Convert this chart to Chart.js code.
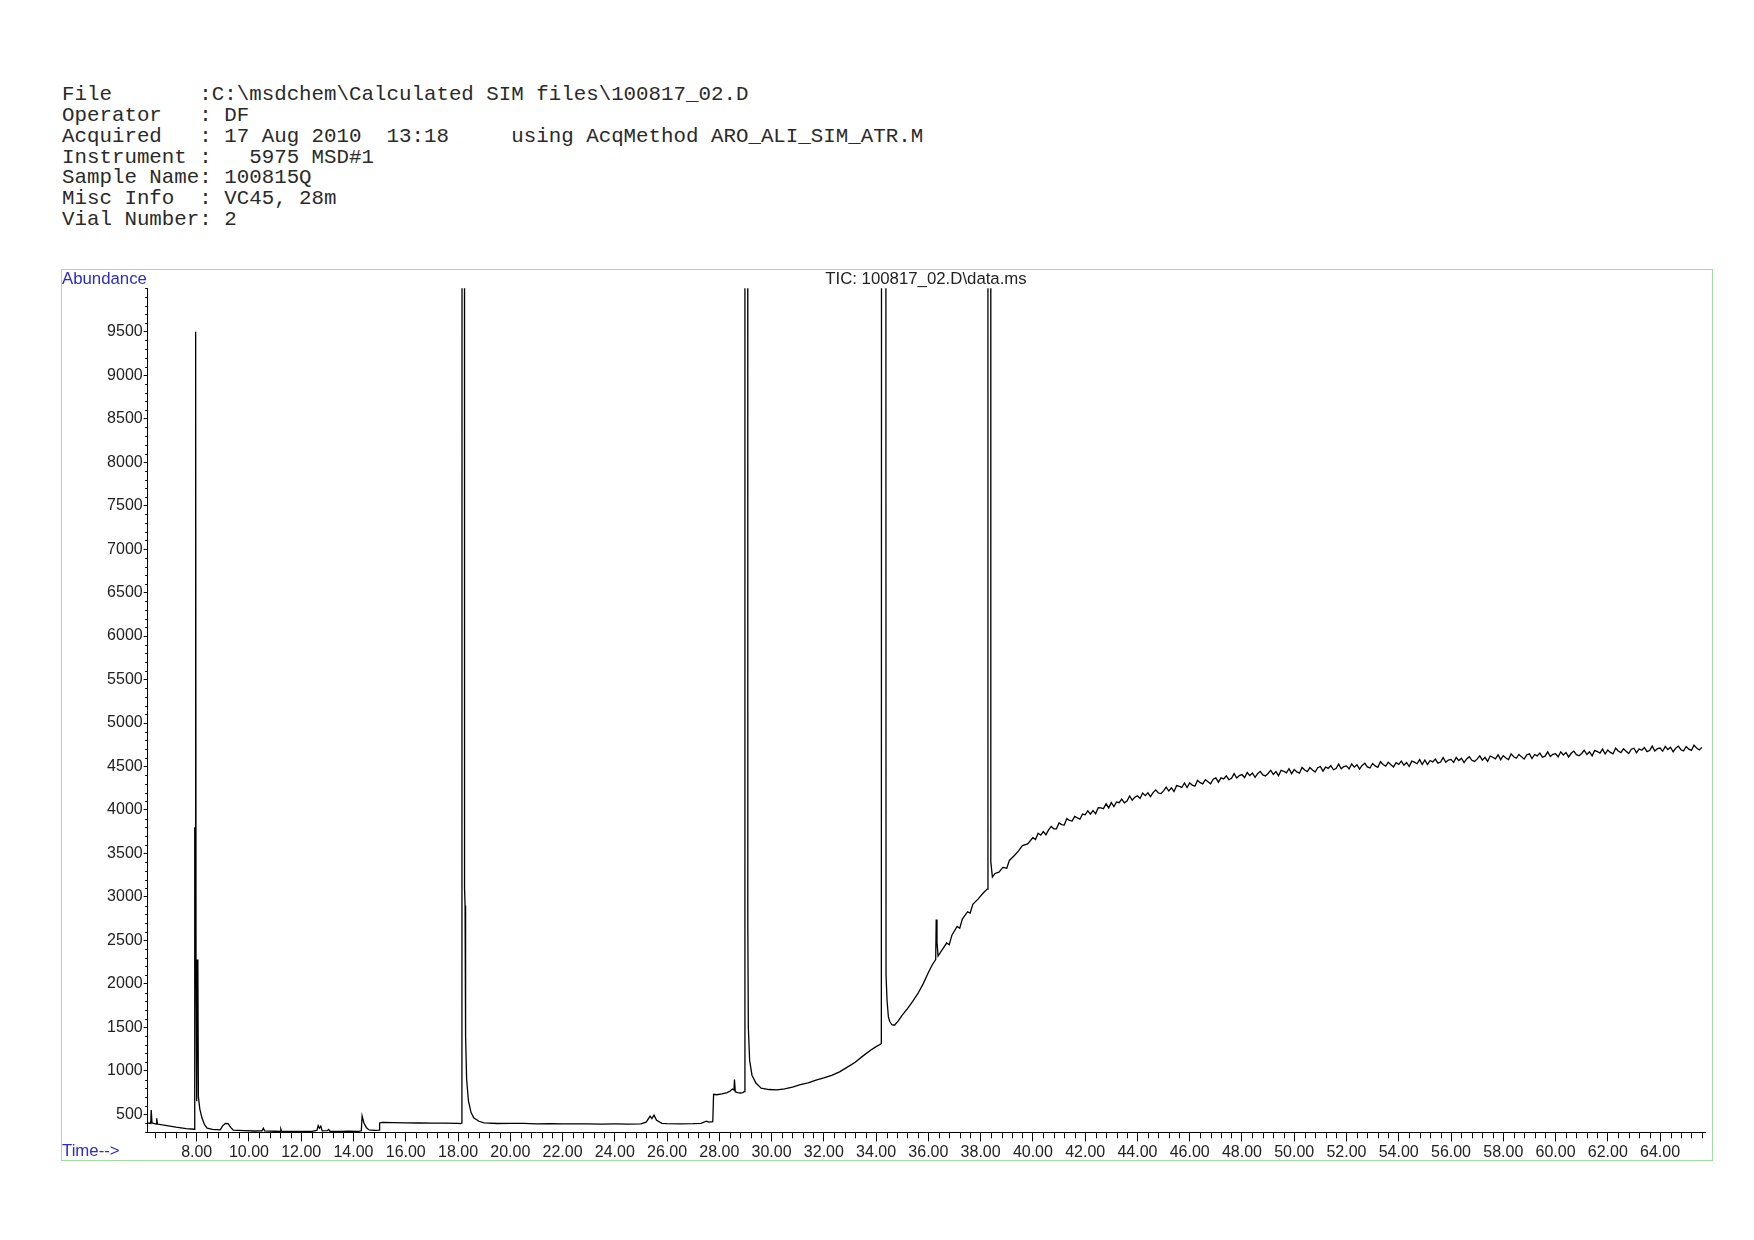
<!DOCTYPE html>
<html>
<head>
<meta charset="utf-8">
<title>TIC 100817_02.D</title>
<script src="https://cdn.jsdelivr.net/npm/chart.js@4.4.0/dist/chart.umd.min.js"></script>
<style>
    html, body { margin: 0; padding: 0; background: #fff; }
    body { width: 1754px; height: 1240px; position: relative; overflow: hidden; }
    #header {
        position: absolute; left: 62px; top: 85px; margin: 0;
        font-family: "Liberation Mono", monospace; font-size: 20.8px;
        line-height: 20.85px; color: #2a2a2a;
    }
    #frame {
        position: absolute; left: 61px; top: 269px; width: 1650px; height: 890px;
        border: 1px solid #9ee09e;
    }
    .lbl {
        position: absolute; font-family: "Liberation Sans", Arial, sans-serif;
        font-size: 16.8px; line-height: 18px; white-space: nowrap;
    }
    .blue { color: #2a2ad6; }
    canvas { position: absolute; left: 0; top: 0; }
</style>
</head>
<body>
<pre id="header">File       :C:\msdchem\Calculated SIM files\100817_02.D
Operator   : DF
Acquired   : 17 Aug 2010  13:18     using AcqMethod ARO_ALI_SIM_ATR.M
Instrument :   5975 MSD#1
Sample Name: 100815Q
Misc Info  : VC45, 28m
Vial Number: 2</pre>
<div id="frame"></div>
<canvas id="ticChart" width="1754" height="1240"></canvas>
<div class="lbl blue" style="left:62px; top:270px;">Abundance</div>
<div class="lbl" style="left:926px; top:270px; transform:translateX(-50%); color:#222;">TIC: 100817_02.D\data.ms</div>
<div class="lbl blue" style="left:62px; top:1142px;">Time--&gt;</div>

<script>
// Retention time (min), up to 40 min
const retentionTime = [
    6.13, 6.24, 6.26, 6.29, 6.45, 6.47, 6.50, 6.8, 7.2, 7.6,
    7.90, 7.92, 7.93, 7.945, 7.96, 7.975, 7.99, 8.01, 8.025, 8.045,
    8.065, 8.12, 8.2, 8.3, 8.4, 8.6, 8.9, 9.0, 9.1, 9.2,
    9.3, 9.4, 9.8, 10.2, 10.5, 10.55, 10.6, 11.0, 11.2, 11.22,
    11.25, 11.8, 12.4, 12.6, 12.65, 12.7, 12.75, 12.8, 13.0, 13.05,
    13.1, 13.5, 13.8, 14.2, 14.3, 14.33, 14.4, 14.5, 14.6, 14.8,
    14.98, 15.0, 15.1, 15.5, 16.0, 16.5, 17.0, 17.5, 18.0, 18.1,
    18.15, 18.17, 18.23, 18.25, 18.27, 18.29, 18.33, 18.4, 18.5, 18.6,
    18.8, 19.0, 19.5, 20.0, 20.5, 21.0, 21.5, 22.0, 22.5, 23.0,
    23.5, 24.0, 24.5, 25.0, 25.2, 25.35, 25.42, 25.5, 25.6, 25.8,
    26.0, 26.5, 27.0, 27.3, 27.5, 27.6, 27.75, 27.78, 27.9, 28.1,
    28.3, 28.4, 28.5, 28.56, 28.58, 28.61, 28.7, 28.8, 28.9, 28.95,
    28.98, 29.07, 29.09, 29.11, 29.16, 29.25, 29.4, 29.6, 29.9, 30.2,
    30.5, 30.8, 31.1, 31.4, 31.7, 32.0, 32.3, 32.6, 32.9, 33.2,
    33.5, 33.8, 34.0, 34.2, 34.24, 34.34, 34.38, 34.42, 34.47, 34.52,
    34.6, 34.7, 34.85, 35.0, 35.2, 35.4, 35.6, 35.8, 36.0, 36.15,
    36.28, 36.3, 36.33, 36.37, 36.5, 36.7, 36.8, 36.9, 37.1, 37.2,
    37.3, 37.5, 37.6, 37.7, 37.9, 38.1, 38.25, 38.28, 38.37, 38.39,
    38.45, 38.55, 38.7, 38.85, 39.0, 39.1, 39.3, 39.45, 39.6, 39.8
];

// Abundance at each of those times (off-scale peaks go above 10000)
const abundance = [
    400, 395, 550, 400, 388, 455, 388, 372, 352, 336,
    328, 340, 3800, 3700, 9500, 2000, 700, 650, 2280, 2200,
    700, 560, 460, 380, 340, 326, 322, 370, 395, 393,
    350, 318, 312, 308, 310, 340, 310, 305, 303, 330,
    305, 302, 304, 315, 370, 340, 365, 310, 312, 325,
    305, 303, 305, 304, 310, 480, 400, 345, 320, 315,
    318, 400, 408, 404, 402, 400, 399, 398, 396, 392,
    400, 60000, 60000, 3100, 2900, 1400, 900, 650, 520, 460,
    420, 402, 394, 395, 396, 391, 393, 390, 389, 391,
    387, 389, 388, 391, 410, 480, 450, 490, 430, 396,
    392, 390, 392, 396, 420, 410, 415, 730, 725, 735,
    750, 765, 790, 780, 900, 760, 750, 745, 750, 760,
    60000, 60000, 2700, 1500, 1120, 950, 860, 800, 785, 780,
    792, 812, 842, 862, 892, 918, 948, 988, 1042, 1098,
    1172, 1240, 1278, 1312, 60000, 60000, 2100, 1800, 1620, 1570,
    1530, 1525, 1575, 1640, 1715, 1800, 1890, 2000, 2130, 2220,
    2280, 2740, 2480, 2320, 2380, 2470, 2450, 2560, 2660, 2640,
    2745, 2830, 2815, 2915, 2975, 3045, 3090, 60000, 60000, 3400,
    3230, 3270, 3285, 3340, 3330, 3420, 3480, 3530, 3590, 3610
];

// Late, noisy baseline: one reading every 0.1 min from 40.0 to 65.6 min
const lateStart = 40.0;
const lateStep = 0.1;
const lateAbundance = [
    3682, 3661, 3732, 3710, 3752, 3715, 3771, 3810, 3783, 3784,
    3850, 3832, 3826, 3901, 3880, 3872, 3927, 3909, 3894, 3953,
    3945, 3991, 3952, 3993, 3956, 4027, 4024, 4015, 4071, 4024,
    4085, 4039, 4093, 4084, 4124, 4083, 4104, 4161, 4114, 4147,
    4162, 4133, 4195, 4165, 4198, 4153, 4200, 4231, 4195, 4188,
    4220, 4262, 4218, 4255, 4213, 4280, 4272, 4259, 4310, 4259,
    4310, 4286, 4273, 4342, 4314, 4300, 4348, 4324, 4302, 4355,
    4370, 4320, 4370, 4357, 4393, 4348, 4365, 4418, 4367, 4396,
    4407, 4373, 4431, 4396, 4425, 4375, 4418, 4444, 4404, 4392,
    4420, 4457, 4409, 4441, 4395, 4457, 4445, 4427, 4474, 4418,
    4465, 4438, 4423, 4489, 4459, 4442, 4488, 4461, 4437, 4487,
    4500, 4447, 4494, 4478, 4511, 4463, 4477, 4527, 4473, 4499,
    4507, 4472, 4529, 4493, 4521, 4470, 4512, 4537, 4496, 4483,
    4535, 4507, 4490, 4555, 4523, 4505, 4549, 4521, 4495, 4544,
    4525, 4562, 4514, 4546, 4500, 4562, 4550, 4532, 4579, 4523,
    4575, 4522, 4569, 4553, 4586, 4538, 4552, 4602, 4548, 4574,
    4582, 4547, 4604, 4568, 4596, 4545, 4587, 4612, 4571, 4558,
    4585, 4622, 4573, 4605, 4558, 4620, 4607, 4589, 4635, 4579,
    4625, 4597, 4580, 4645, 4613, 4595, 4639, 4611, 4585, 4634,
    4645, 4592, 4638, 4622, 4654, 4606, 4619, 4669, 4614, 4640,
    4647, 4612, 4669, 4633, 4661, 4610, 4652, 4677, 4636, 4623,
    4650, 4687, 4638, 4670, 4623, 4685, 4672, 4654, 4700, 4644,
    4690, 4662, 4645, 4710, 4678, 4660, 4704, 4676, 4650, 4699,
    4710, 4657, 4703, 4687, 4719, 4671, 4684, 4734, 4679, 4705,
    4712, 4676, 4732, 4695, 4722, 4670, 4711, 4735, 4693, 4679,
    4730, 4700, 4685, 4745, 4712, 4690, 4720
];

// Labelled ticks
const timeTicks = [8, 10, 12, 14, 16, 18, 20, 22, 24, 26, 28, 30, 32, 34, 36,
    38, 40, 42, 44, 46, 48, 50, 52, 54, 56, 58, 60, 62, 64];
const abundanceTicks = [500, 1000, 1500, 2000, 2500, 3000, 3500, 4000, 4500,
    5000, 5500, 6000, 6500, 7000, 7500, 8000, 8500, 9000, 9500];

const X_MIN = 6.125, X_MAX = 65.72;
const Y_MIN = 293, Y_MAX = 10000;

const tickFont = { family: '"Liberation Sans", Arial, sans-serif', size: 16 };

/**
 * Short minor tick marks: every 0.4 min on time, every 100 on abundance
 */
const minorTicks = {
    id: 'minorTicks',
    afterDraw(chart) {
        const ctx = chart.ctx;
        const xs = chart.scales.x;
        const ys = chart.scales.y;
        const area = chart.chartArea;
        ctx.save();
        ctx.strokeStyle = '#000';
        ctx.lineWidth = 1;
        ctx.beginPath();
        for (let i = 16; i * 0.4 <= X_MAX; i++) {
            if (i % 5 === 0) continue;
            const px = Math.round(xs.getPixelForValue(i * 0.4)) + 0.5;
            ctx.moveTo(px, area.bottom);
            ctx.lineTo(px, area.bottom + 6);
        }
        for (let v = 300; v <= Y_MAX; v += 100) {
            if (v % 500 === 0 && v < Y_MAX) continue;
            const py = Math.round(ys.getPixelForValue(v)) + 0.5;
            ctx.moveTo(area.left, py);
            ctx.lineTo(area.left - 2.5, py);
        }
        ctx.stroke();
        ctx.restore();
    }
};

document.addEventListener('DOMContentLoaded', function() {
    const points = retentionTime.map((t, i) => ({ x: t, y: abundance[i] }));
    lateAbundance.forEach((v, i) => {
        points.push({ x: +(lateStart + i * lateStep).toFixed(1), y: v });
    });

    new Chart(document.getElementById('ticChart'), {
        type: 'scatter',
        data: {
            datasets: [{
                data: points,
                showLine: true,
                borderColor: '#000',
                borderWidth: 1.3,
                pointRadius: 0,
                tension: 0
            }]
        },
        options: {
            responsive: false,
            animation: false,
            events: [],
            layout: { padding: { left: 0, right: 49, top: 288.3, bottom: 67.7 } },
            plugins: {
                legend: { display: false },
                tooltip: { enabled: false }
            },
            scales: {
                x: {
                    type: 'linear',
                    min: X_MIN,
                    max: X_MAX,
                    afterBuildTicks: scale => {
                        scale.ticks = timeTicks.map(v => ({ value: v }));
                    },
                    afterFit: scale => { scale.height = 40; },
                    ticks: {
                        callback: v => Number(v).toFixed(2),
                        font: tickFont,
                        color: '#222',
                        padding: 2,
                        maxRotation: 0,
                        autoSkip: false
                    },
                    grid: { display: true, drawOnChartArea: false, tickLength: 9, tickColor: '#000' },
                    border: { color: '#000', width: 1 }
                },
                y: {
                    type: 'linear',
                    min: Y_MIN,
                    max: Y_MAX,
                    afterBuildTicks: scale => {
                        scale.ticks = abundanceTicks.map(v => ({ value: v }));
                    },
                    afterFit: scale => { scale.width = 147.7; },
                    ticks: {
                        callback: v => String(v),
                        font: tickFont,
                        color: '#222',
                        padding: 1,
                        autoSkip: false
                    },
                    grid: { display: true, drawOnChartArea: false, tickLength: 4, tickColor: '#000' },
                    border: { color: '#000', width: 1 }
                }
            }
        },
        plugins: [minorTicks]
    });
});
</script>
</body>
</html>
